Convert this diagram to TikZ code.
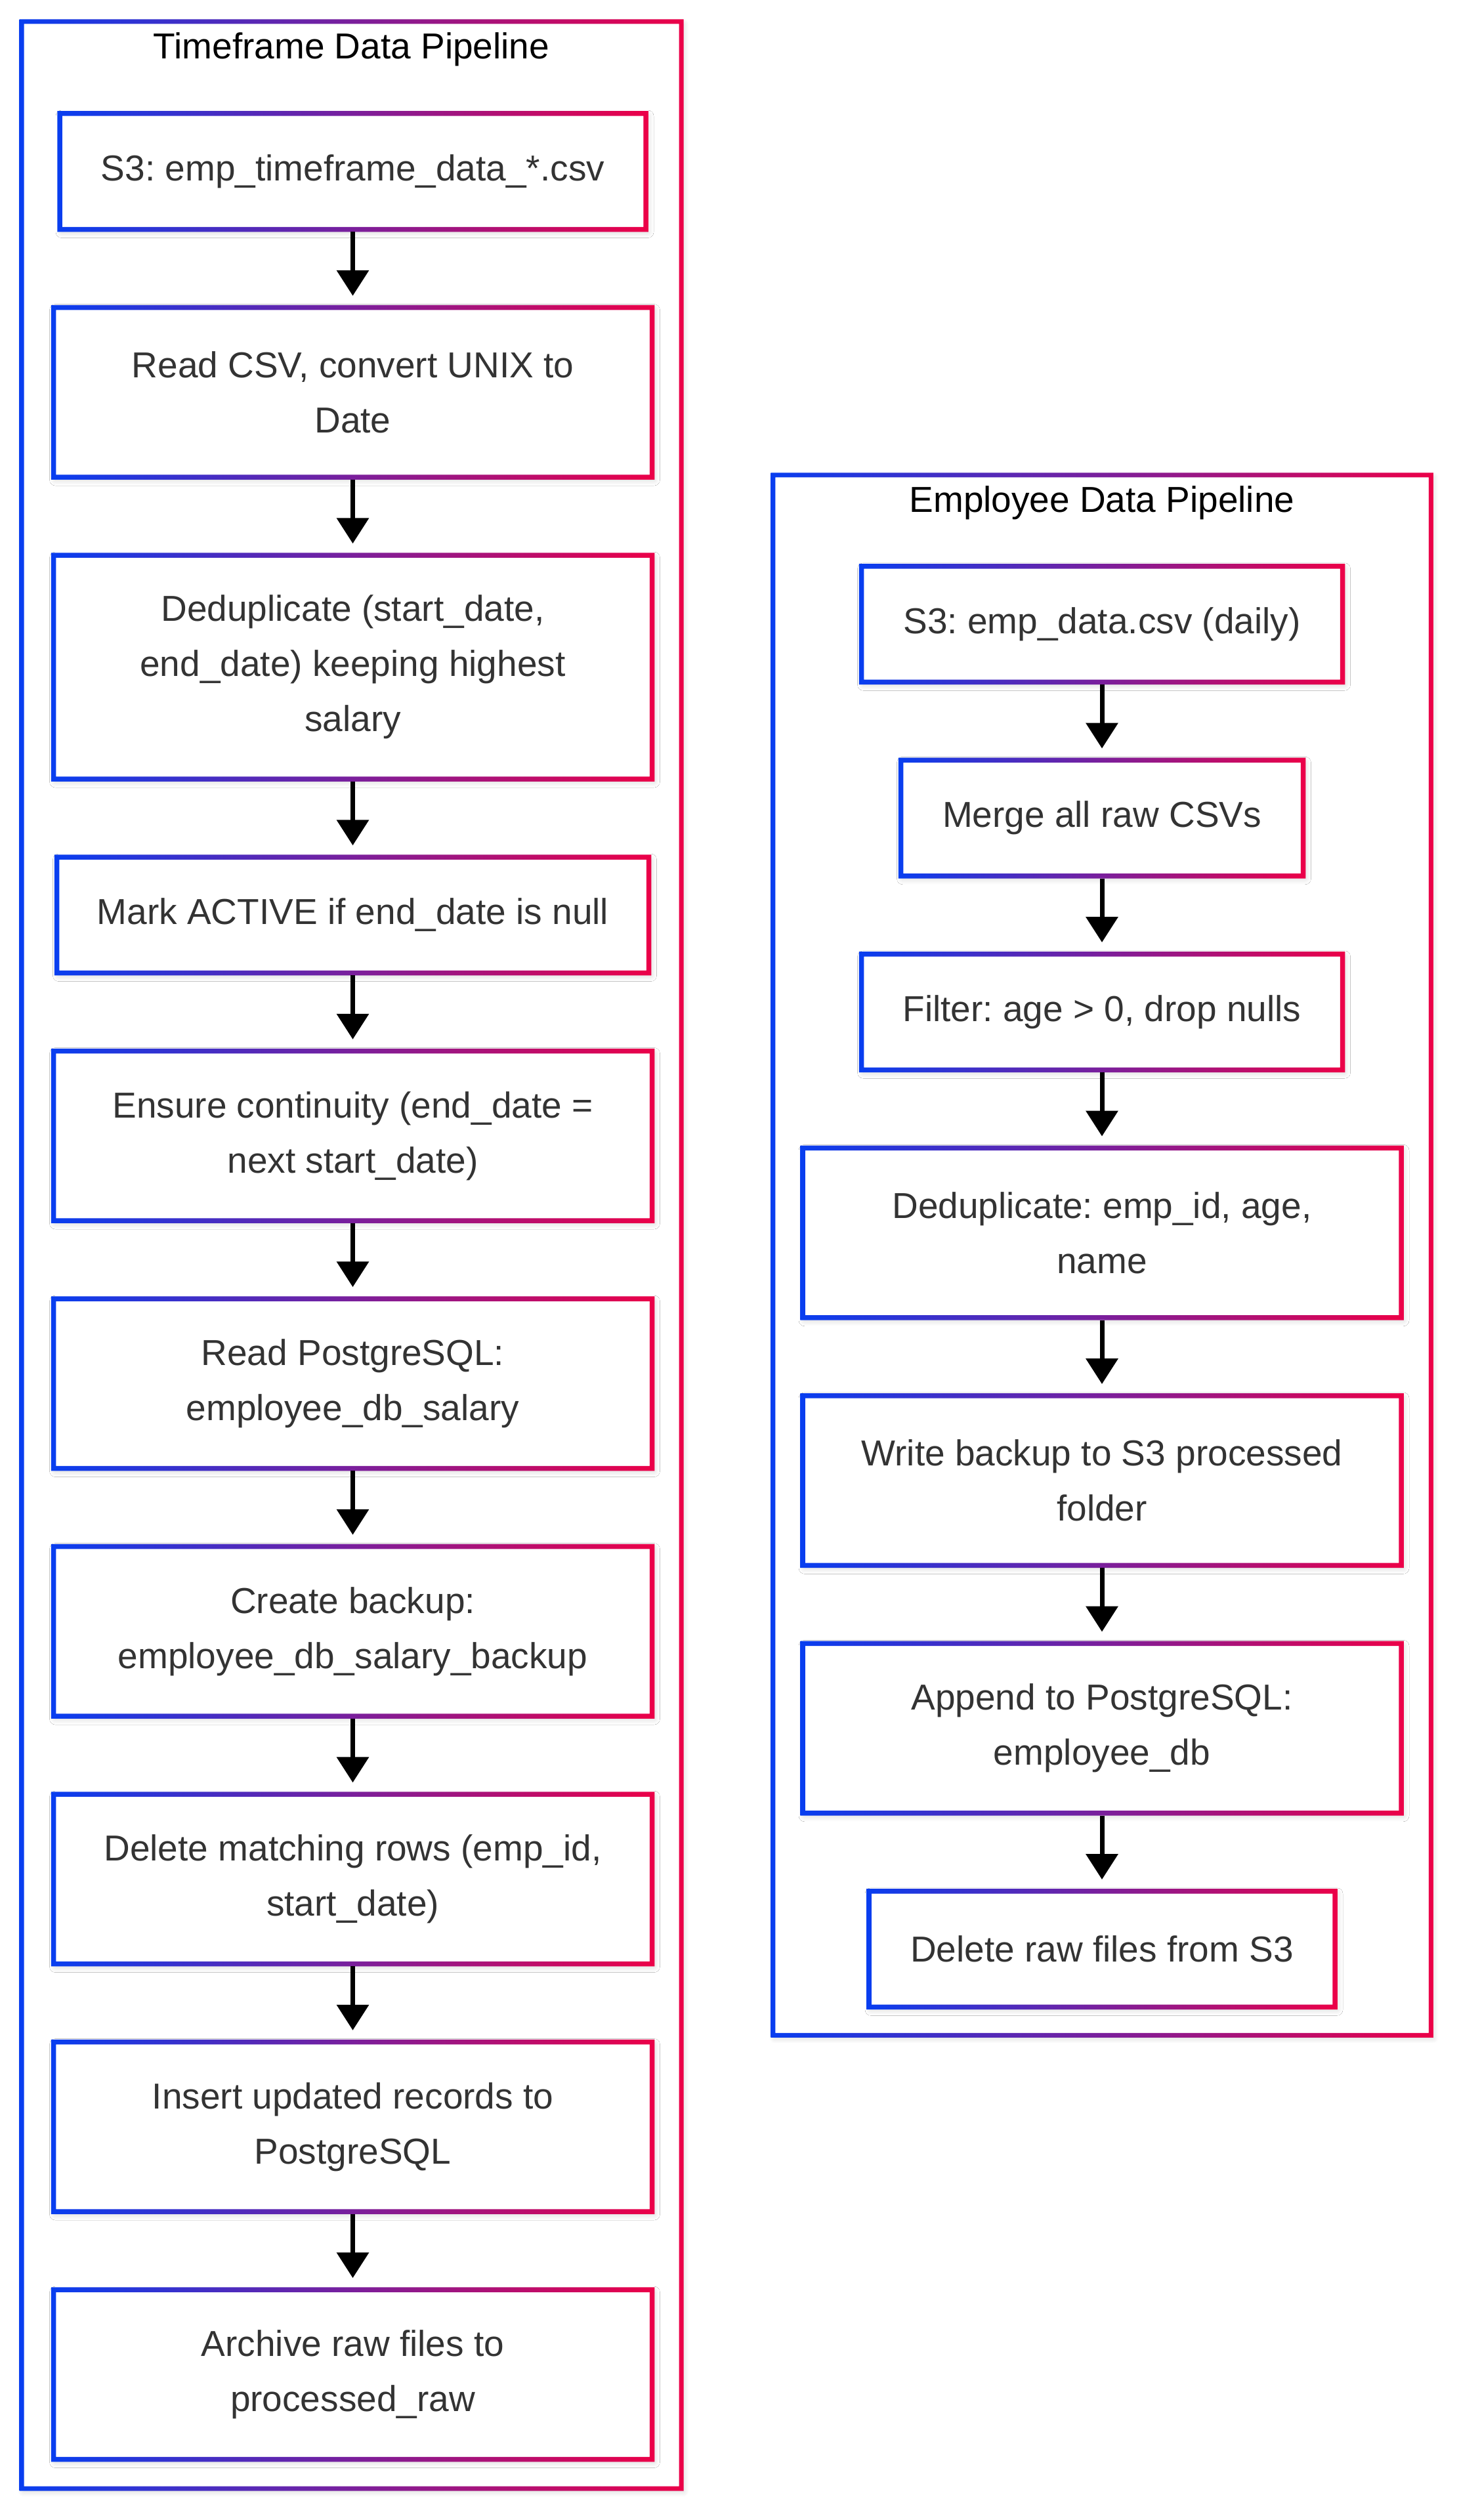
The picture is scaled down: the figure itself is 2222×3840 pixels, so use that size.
\documentclass[tikz,border=0pt]{standalone}
\usepackage{fontspec}
\setmainfont{Liberation Sans}
\frenchspacing
\usetikzlibrary{positioning,arrows.meta,shadows.blur}
\definecolor{pipeblue}{RGB}{8,62,240}
\definecolor{pipered}{RGB}{236,0,72}
\definecolor{boxtext}{RGB}{51,51,51}
\newcommand{\gradring}[2]{%
  \shade[left color=pipeblue, right color=pipered, even odd rule]
    (#1.south west) rectangle (#1.north east)
    ([shift={(#2,#2)}]#1.south west) rectangle ([shift={(-#2,-#2)}]#1.north east);}

\begin{document}
\begin{tikzpicture}[x=1pt,y=-1pt,node distance=111.5pt,
    soft shadow/.style={blur shadow={shadow xshift=3pt,shadow yshift=-4pt,shadow blur radius=9pt,shadow blur steps=10,shadow opacity=18}},
    frame box/.style={draw=none,fill=white,outer sep=3.5pt,inner sep=0pt,soft shadow},
    frame title/.style={anchor=base,text=black,font=\fontsize{55}{66}\selectfont},
    flowbox/.style={draw=none,fill=white,outer sep=3.75pt,inner xsep=20pt,align=center,
      text=boxtext,font=\fontsize{55}{84}\selectfont,minimum width=912pt,minimum height=176.5pt,soft shadow},
    two lines/.style={minimum height=258.5pt},
    three lines/.style={minimum height=341pt},
    flow/.style={line width=7pt,-{Triangle[length=39pt,width=48pt]},shorten >=14pt}]
    \useasboundingbox (0,0) rectangle (2222,3840);

    \node[frame box,minimum width=1005pt,minimum height=3759pt] (tfp) at (535.5,1912.5) {};
    \node[frame box,minimum width=1002.5pt,minimum height=2377.5pt] (edp) at (1679,1912.5) {};
    \foreach \n in {tfp,edp} \gradring{\n}{7pt};
    \node[frame title] (tfptitle) at ([yshift=-60pt]tfp.north) {Timeframe Data Pipeline};
    \node[frame title] (edptitle) at ([yshift=-60pt]edp.north) {Employee Data Pipeline};

    \node[flowbox,minimum width=893pt] (s3tf) at (537.5,261.25) {S3: emp\_timeframe\_data\_*.csv};
    \node[flowbox,two lines] (readcsv) [below=of s3tf] {Read CSV, convert UNIX to\\Date};
    \node[flowbox,three lines] (dedup) [below=of readcsv] {Deduplicate (start\_date,\\end\_date) keeping highest\\salary};
    \node[flowbox,minimum width=902pt] (markactive) [below=of dedup] {Mark ACTIVE if end\_date is null};
    \node[flowbox,two lines] (continuity) [below=of markactive] {Ensure continuity (end\_date =\\next start\_date)};
    \node[flowbox,two lines] (readpg) [below=of continuity] {Read PostgreSQL:\\employee\_db\_salary};
    \node[flowbox,two lines] (backup) [below=of readpg] {Create backup:\\employee\_db\_salary\_backup};
    \node[flowbox,two lines] (delrows) [below=of backup] {Delete matching rows (emp\_id,\\start\_date)};
    \node[flowbox,two lines] (insert) [below=of delrows] {Insert updated records to\\PostgreSQL};
    \node[flowbox,two lines] (archive) [below=of insert] {Archive raw files to\\processed\_raw};

    \node[flowbox,minimum width=733pt] (s3emp) at (1679,951) {S3: emp\_data.csv (daily)};
    \node[flowbox,minimum width=613pt] (merge) [below=of s3emp] {Merge all raw CSVs};
    \node[flowbox,minimum width=733pt] (filter) [below=of merge] {Filter: age > 0, drop nulls};
    \node[flowbox,two lines] (dedupemp) [below=of filter] {Deduplicate: emp\_id, age,\\name};
    \node[flowbox,two lines] (writebak) [below=of dedupemp] {Write backup to S3 processed\\folder};
    \node[flowbox,two lines] (append) [below=of writebak] {Append to PostgreSQL:\\employee\_db};
    \node[flowbox,minimum width=710pt] (delraw) [below=of append] {Delete raw files from S3};

    \foreach \n in {s3tf,readcsv,dedup,markactive,continuity,readpg,backup,delrows,insert,archive,
      s3emp,merge,filter,dedupemp,writebak,append,delraw} \gradring{\n}{7.5pt};

    \path[flow]
    (s3tf) edge (readcsv)
    (readcsv) edge (dedup)
    (dedup) edge (markactive)
    (markactive) edge (continuity)
    (continuity) edge (readpg)
    (readpg) edge (backup)
    (backup) edge (delrows)
    (delrows) edge (insert)
    (insert) edge (archive)

    (s3emp) edge (merge)
    (merge) edge (filter)
    (filter) edge (dedupemp)
    (dedupemp) edge (writebak)
    (writebak) edge (append)
    (append) edge (delraw);
  \end{tikzpicture}
\end{document}
